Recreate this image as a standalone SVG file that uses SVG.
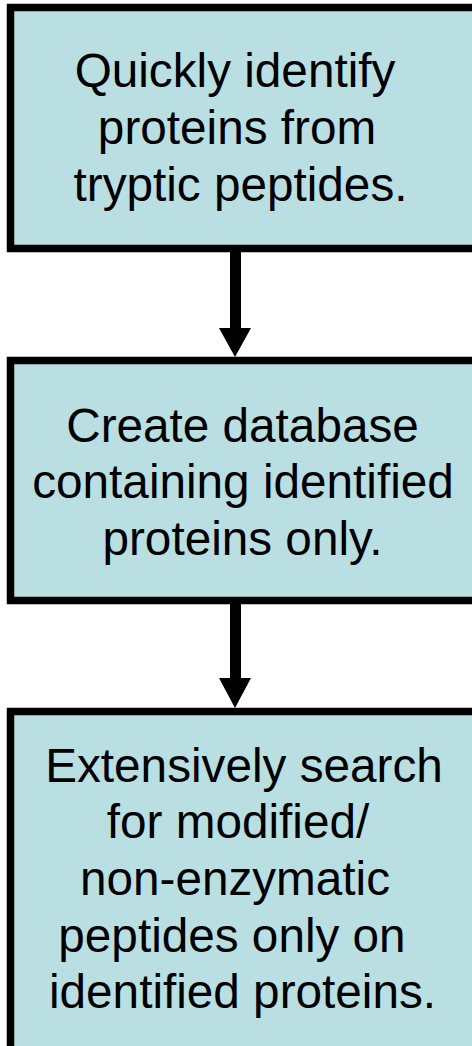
<svg xmlns="http://www.w3.org/2000/svg" width="472" height="1046" viewBox="0 0 472 1046">
<style>
.box{fill:#B9DFE3;stroke:#000;stroke-width:7.5}
.t{font-family:"Liberation Sans",Arial,sans-serif;font-size:47.7px;fill:#000;text-anchor:middle}
.shaft{stroke:#000;stroke-width:11;fill:none}
.head{fill:#000}
</style>
<rect width="472" height="1046" fill="#fff"/>
<g id="node1">
<rect class="box" x="10.5" y="7.5" width="466" height="241"/>
<text class="t" x="235" y="86.5">Quickly identify</text>
<text class="t" x="237" y="143.5">proteins from</text>
<text class="t" x="240.5" y="201">tryptic peptides.</text>
</g>
<g id="node2">
<rect class="box" x="10.5" y="360.5" width="466" height="240"/>
<text class="t" x="242.5" y="441.7">Create database</text>
<text class="t" x="243" y="498.3">containing identified</text>
<text class="t" x="242.5" y="555">proteins only.</text>
</g>
<g id="node3">
<rect class="box" x="10.5" y="711.5" width="466" height="345"/>
<text class="t" x="244" y="781.7">Extensively search</text>
<text class="t" x="238" y="838.3">for modified/</text>
<text class="t" x="235" y="895">non-enzymatic</text>
<text class="t" x="232" y="951.7">peptides only on</text>
<text class="t" x="242.5" y="1008.3">identified proteins.</text>
</g>
<g id="connectors">
<line class="shaft" x1="235.5" y1="252" x2="235.5" y2="330"/>
<polygon class="head" points="219,328 251,328 235,357"/>
<line class="shaft" x1="235.5" y1="604" x2="235.5" y2="680"/>
<polygon class="head" points="219,678 251,678 235,708"/>
</g>
</svg>
